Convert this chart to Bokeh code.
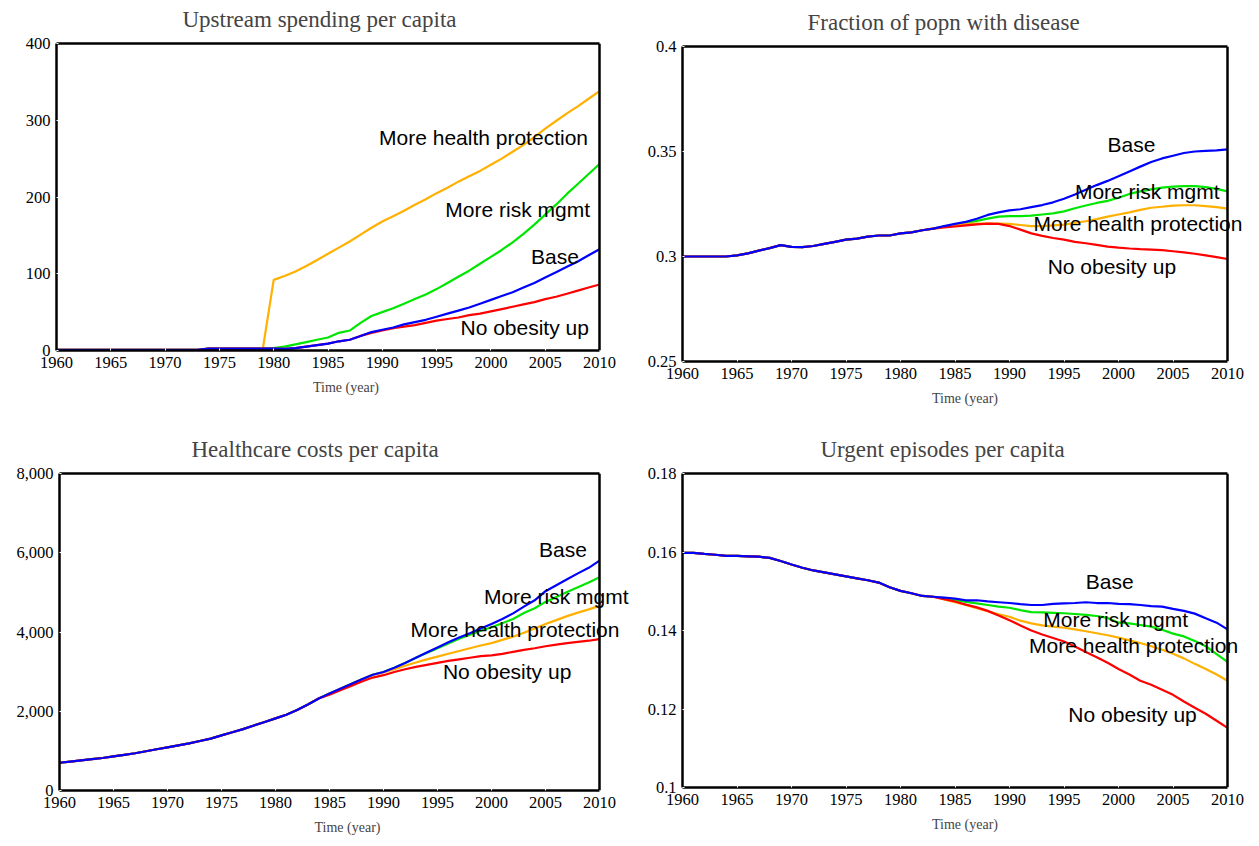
from bokeh.plotting import figure
from bokeh.models import Range1d, Label, FixedTicker, CustomJSTickFormatter, NumeralTickFormatter, LinearAxis, Span
from bokeh.layouts import column, row
from bokeh.embed import file_html
from bokeh.resources import INLINE

years = list(range(1960, 2011))
x_ticks = [1960, 1965, 1970, 1975, 1980, 1985, 1990, 1995, 2000, 2005, 2010]

# ---------------- Upstream spending per capita ----------------
up_ticks = [0, 100, 200, 300, 400]
up_base = [1]*14 + [2.5]*7 + [2, 3, 5, 7, 9, 12, 14, 19, 24, 27, 30, 34, 37, 40, 44, 48, 52, 56, 61, 66,
                               71, 76, 82, 88, 95, 102, 109, 116, 124, 132]
up_noob = [1]*14 + [2.5]*7 + [2, 3, 5, 7, 9, 12, 14, 19, 23, 26, 29, 31, 33, 36, 39, 41, 43, 46, 48, 51,
                               54, 57, 60, 63, 67, 70, 74, 78, 82, 86]
up_risk = [1]*14 + [2.5]*6 + [3, 5, 8, 11, 14, 17, 23, 26, 36, 45, 50, 55, 61, 67, 73, 80, 88, 96, 104, 113, 122,
                               131, 141, 152, 164, 177, 190, 204, 217, 230, 243]
up_prot = [1]*14 + [2.5]*6 + [92, 97, 103, 110, 118, 126, 134, 142, 151, 160, 168, 175, 182, 190, 197, 205,
                               212, 220, 227, 234, 242, 250, 259, 268, 278, 289, 299, 309, 318, 328, 338]

# ---------------- Fraction of popn with disease ----------------
fr_ticks = [0.25, 0.3, 0.35, 0.4]
fr_common = [0.300, 0.300, 0.300, 0.300, 0.300, 0.3005, 0.3015, 0.3028, 0.304, 0.3054,
             0.3046, 0.3045, 0.305, 0.306, 0.307, 0.308, 0.3085, 0.3095, 0.310, 0.310,
             0.311, 0.3115, 0.3125, 0.3133]
fr_base = fr_common + [0.3145, 0.3155, 0.3165, 0.318, 0.3198, 0.321, 0.322, 0.3225, 0.3235, 0.3245,
                       0.3258, 0.3275, 0.3295, 0.3318, 0.334, 0.336, 0.3382, 0.3405, 0.3428, 0.345,
                       0.3467, 0.348, 0.3493, 0.350, 0.3503, 0.3505, 0.351]
fr_risk = fr_common + [0.3143, 0.3152, 0.316, 0.317, 0.318, 0.319, 0.3192, 0.3192, 0.3195, 0.320,
                       0.3205, 0.3215, 0.323, 0.3243, 0.3255, 0.3265, 0.328, 0.3298, 0.331, 0.332,
                       0.3328, 0.3333, 0.3335, 0.3335, 0.333, 0.3322, 0.331]
fr_prot = fr_common + [0.3142, 0.315, 0.3155, 0.3157, 0.3157, 0.3157, 0.3155, 0.315, 0.3145, 0.3145,
                       0.3148, 0.3152, 0.316, 0.3168, 0.3178, 0.319, 0.320, 0.321, 0.3222, 0.3232,
                       0.3237, 0.3242, 0.3244, 0.3244, 0.324, 0.3235, 0.3228]
fr_noob = fr_common + [0.3138, 0.3143, 0.3148, 0.3153, 0.3157, 0.3155, 0.3145, 0.3128, 0.311, 0.3098,
                       0.3088, 0.308, 0.307, 0.3063, 0.3055, 0.3047, 0.3042, 0.3038, 0.3035, 0.3033,
                       0.303, 0.3025, 0.302, 0.3013, 0.3005, 0.2997, 0.2988]

# ---------------- Healthcare costs per capita ----------------
hc_ticks = [0, 2000, 4000, 6000, 8000]
hc_common = [700, 730, 760, 790, 820, 860, 900, 940, 990, 1040,
             1090, 1140, 1190, 1250, 1310, 1390, 1470, 1550, 1640, 1730,
             1820, 1910, 2030, 2170, 2320]
hc_base = hc_common + [2450, 2570, 2690, 2810, 2920, 2990, 3100, 3220, 3350, 3480,
                       3610, 3740, 3860, 3970, 4090, 4200, 4330, 4470, 4640, 4800,
                       5030, 5180, 5330, 5480, 5620, 5800]
hc_risk = hc_common + [2450, 2570, 2690, 2810, 2920, 2990, 3100, 3220, 3350, 3470,
                       3590, 3710, 3830, 3930, 4030, 4120, 4220, 4330, 4480, 4600,
                       4760, 4880, 5010, 5130, 5250, 5380]
hc_prot = hc_common + [2450, 2570, 2690, 2810, 2920, 2980, 3060, 3150, 3230, 3310,
                       3380, 3450, 3520, 3590, 3660, 3720, 3800, 3880, 3980, 4090,
                       4200, 4300, 4400, 4490, 4570, 4660]
hc_noob = hc_common + [2420, 2530, 2640, 2750, 2850, 2910, 2990, 3060, 3120, 3170,
                       3220, 3270, 3310, 3350, 3390, 3410, 3450, 3500, 3550, 3590,
                       3640, 3680, 3720, 3750, 3780, 3820]

# ---------------- Urgent episodes per capita ----------------
ur_ticks = [0.1, 0.12, 0.14, 0.16, 0.18]
ur_common = [0.1598, 0.1598, 0.1595, 0.1593, 0.159, 0.159, 0.1589, 0.1588, 0.1585, 0.1577,
             0.1568, 0.156, 0.1553, 0.1548, 0.1543, 0.1538, 0.1533, 0.1528, 0.1522, 0.151,
             0.1501, 0.1495, 0.1488, 0.1486]
ur_base = ur_common + [0.1484, 0.1481, 0.1477, 0.1477, 0.1474, 0.1472, 0.147, 0.1467, 0.1465, 0.1465,
                       0.1468, 0.1469, 0.147, 0.1472, 0.147, 0.147, 0.1468, 0.1467, 0.1465, 0.1462,
                       0.1461, 0.1455, 0.145, 0.1443, 0.1431, 0.142, 0.1403]
ur_risk = ur_common + [0.1482, 0.1478, 0.1473, 0.1469, 0.1465, 0.1461, 0.1458, 0.1452, 0.1447, 0.1446,
                       0.1445, 0.1444, 0.1442, 0.144, 0.1437, 0.1432, 0.142, 0.1418, 0.1414, 0.141,
                       0.1402, 0.1392, 0.1385, 0.1373, 0.136, 0.134, 0.132]
ur_prot = ur_common + [0.1479, 0.1472, 0.1465, 0.1457, 0.1449, 0.1441, 0.1435, 0.1425, 0.1418, 0.1413,
                       0.141, 0.1407, 0.1403, 0.1398, 0.1393, 0.1388, 0.1382, 0.1375, 0.1368, 0.136,
                       0.1351, 0.1341, 0.1329, 0.1315, 0.1302, 0.1288, 0.1272]
ur_noob = ur_common + [0.148, 0.1474, 0.1466, 0.1459, 0.145, 0.1438, 0.1426, 0.1413, 0.14, 0.139,
                       0.1381, 0.1372, 0.1359, 0.1345, 0.1332, 0.1318, 0.1302, 0.1288, 0.1272, 0.1262,
                       0.1249, 0.1236, 0.1219, 0.1203, 0.1188, 0.117, 0.1152]

names = ["Base", "More risk mgmt", "More health protection", "No obesity up"]
colors = {"Base": "#0000FF", "More risk mgmt": "#00E600",
          "More health protection": "#FFB000", "No obesity up": "#FF0000"}
draw_order = ["More risk mgmt", "More health protection", "No obesity up", "Base"]

SERIF = "Liberation Serif"
SANS = "Liberation Sans"
X0, X1 = 1960, 2010


def style_axis(ax):
    ax.axis_line_color = "black"
    ax.axis_line_width = 2.5
    ax.major_tick_line_color = "white"
    ax.major_tick_line_width = 1
    ax.major_tick_in = 2
    ax.major_tick_out = 0
    ax.minor_tick_line_color = None
    ax.major_label_text_font = SERIF
    ax.major_label_text_font_size = "16.5px"
    ax.major_label_text_color = "black"


def make_panel(title, title_dx, series, yr, yticks, fmt, fw, fh, extra, bl, br, bt, bb, labels):
    # the frame runs a little past 2010 so that the series labels are not clipped;
    # the visible box ends at 2010 (top/bottom axes bounded, span on the right)
    x_end = X1 + extra * (X1 - X0) / fw
    p = figure(frame_width=fw + extra, frame_height=fh, output_backend="svg", toolbar_location=None,
               x_range=Range1d(X0, x_end), y_range=Range1d(*yr),
               min_border_left=bl, min_border_right=br, min_border_top=bt, min_border_bottom=bb,
               title=title)
    p.title.text_font = SERIF
    p.title.text_font_size = "23px"
    p.title.text_font_style = "normal"
    p.title.align = "left"
    p.title.offset = title_dx
    p.title.standoff = 24
    p.grid.visible = False
    p.outline_line_color = None
    p.background_fill_color = "white"
    xa = p.xaxis[0]
    ya = p.yaxis[0]
    style_axis(xa)
    style_axis(ya)
    xa.ticker = FixedTicker(ticks=x_ticks)
    xa.bounds = (X0, X1)
    xa.major_label_standoff = 6
    xa.axis_label = "Time (year)"
    xa.axis_label_text_font = SERIF
    xa.axis_label_text_font_size = "14px"
    xa.axis_label_text_font_style = "normal"
    xa.axis_label_standoff = 9
    ya.ticker = FixedTicker(ticks=yticks)
    ya.formatter = fmt
    ya.major_label_standoff = 6
    top = LinearAxis(ticker=FixedTicker(ticks=[]), bounds=(X0, X1))
    style_axis(top)
    top.major_label_standoff = 0
    p.add_layout(top, "above")
    p.add_layout(Span(location=X1, dimension="height", line_color="black", line_width=2.5))
    for nm in draw_order:
        p.line(years, series[nm], line_color=colors[nm], line_width=2.2)
    for txt, lx, ly in labels:
        p.add_layout(Label(x=lx, y=ly, text=txt, text_font=SANS, text_font_size="21px",
                           text_baseline="middle", text_align="left", text_color="black"))
    return p


plain = CustomJSTickFormatter(code="return String(tick);")

p1 = make_panel("Upstream spending per capita", 126,
                {"Base": up_base, "More risk mgmt": up_risk,
                 "More health protection": up_prot, "No obesity up": up_noob},
                (0, 400), up_ticks, plain, 543, 307, 36, 56, 0, 50, 58,
                [("More health protection", 1989.7, 277), ("More risk mgmt", 1995.8, 184),
                 ("Base", 2003.7, 123), ("No obesity up", 1997.2, 30)])

p2 = make_panel("Fraction of popn with disease", 125,
                {"Base": fr_base, "More risk mgmt": fr_risk,
                 "More health protection": fr_prot, "No obesity up": fr_noob},
                (0.25, 0.4), fr_ticks, CustomJSTickFormatter(code="return String(tick);"),
                545, 315, 20, 47, 0, 54, 46,
                [("Base", 1999.0, 0.3534), ("More risk mgmt", 1996.0, 0.3308),
                 ("More health protection", 1992.2, 0.3157), ("No obesity up", 1993.5, 0.2953)])

p3 = make_panel("Healthcare costs per capita", 132,
                {"Base": hc_base, "More risk mgmt": hc_risk,
                 "More health protection": hc_prot, "No obesity up": hc_noob},
                (0, 8000), hc_ticks, NumeralTickFormatter(format="0,0"),
                540, 317, 36, 59, 0, 65, 48,
                [("Base", 2004.4, 6075), ("More risk mgmt", 1999.3, 4890),
                 ("More health protection", 1992.5, 4075), ("No obesity up", 1995.5, 3008)])

p4 = make_panel("Urgent episodes per capita", 138,
                {"Base": ur_base, "More risk mgmt": ur_risk,
                 "More health protection": ur_prot, "No obesity up": ur_noob},
                (0.1, 0.18), ur_ticks, CustomJSTickFormatter(code="return String(tick);"),
                545, 314, 20, 47, 0, 65, 51,
                [("Base", 1997.0, 0.1524), ("More risk mgmt", 1993.1, 0.1429),
                 ("More health protection", 1991.8, 0.1361), ("No obesity up", 1995.4, 0.1185)])

top_row = row(column(p1), column(p2), margin=(-8, 0, 0, 0))
bottom_row = row(column(p3), column(p4))
layout = column(top_row, bottom_row)
open("out.html", "w").write(file_html(layout, INLINE))
